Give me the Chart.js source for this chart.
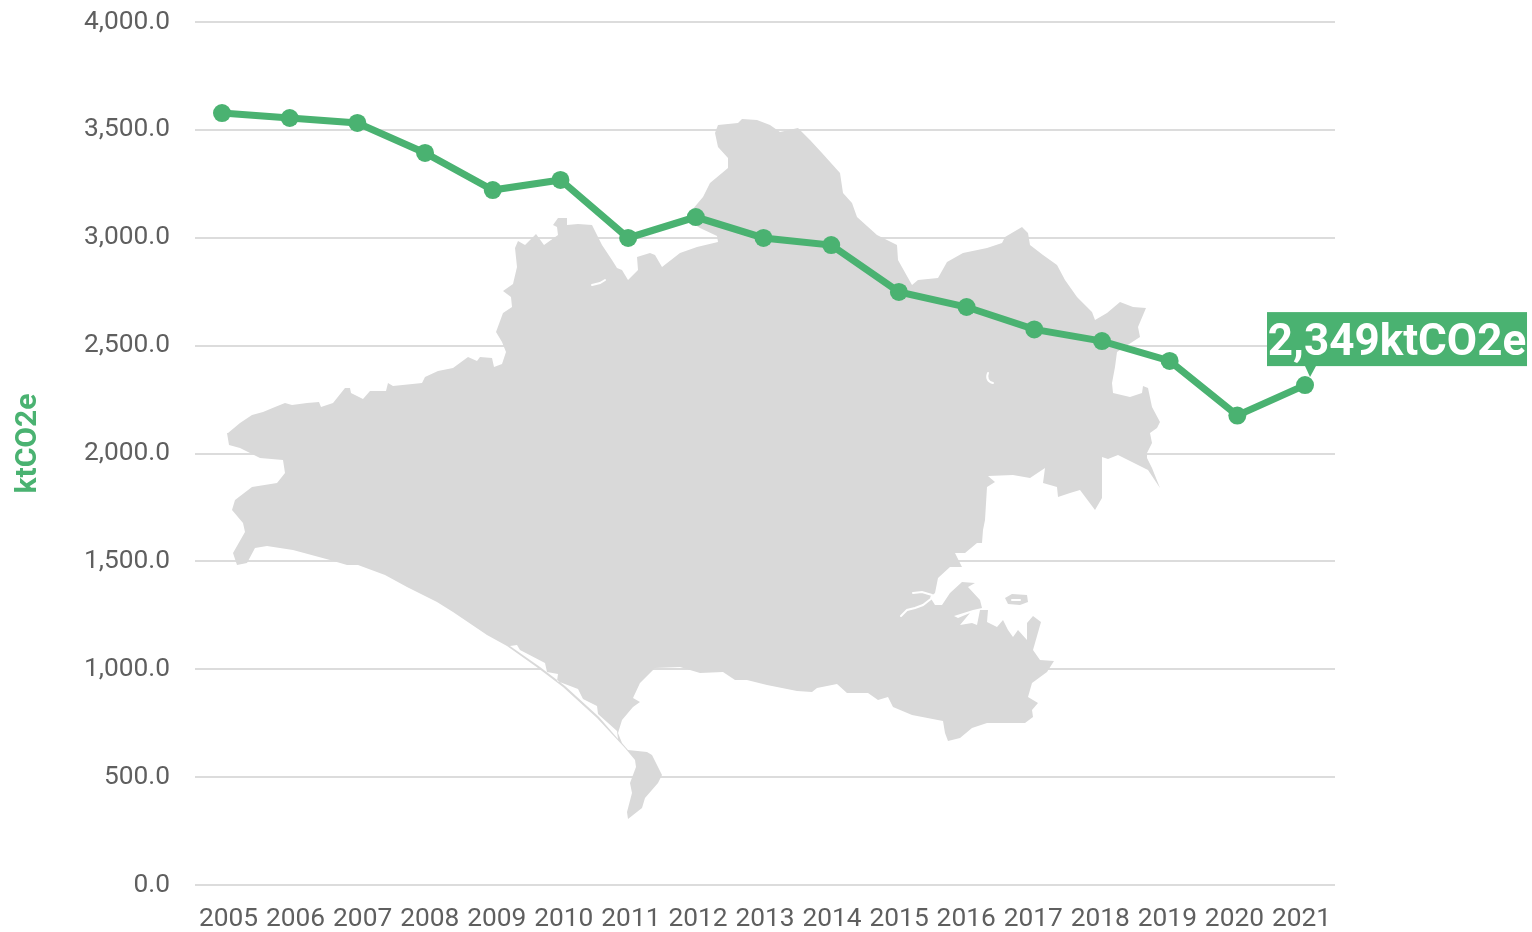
<!DOCTYPE html>
<html><head><meta charset="utf-8">
<style>html,body{margin:0;padding:0;background:#fff}canvas{display:block}</style>
<script src="https://cdn.jsdelivr.net/npm/chart.js@4"></script>
</head><body><canvas id="c" width="1532" height="932"></canvas>
<script>
const years = [2005,2006,2007,2008,2009,2010,2011,2012,2013,2014,2015,2016,2017,2018,2019,2020,2021];
const emissions = [3578,3555,3532,3393,3221,3268,2999,3096,2999,2966,2749,2679,2575,2521,2429,2176,2317];
const yTicks = [0,500,1000,1500,2000,2500,3000,3500,4000];
const yTitle = 'ktCO2e';
const calloutText = '2,349ktCO2e';
const GREEN = '#4ab271';

// Decorative county silhouette behind the line (a backdrop, not a data mark)
const landOutline = "M228 433 240 423 252 415 263 412 275 407 285 403 292 405 307 403 319 402 321 407 333 403 345 388 350 388 351 393 363 399 370 391 386 391 388 383 393 386 422 383 425 377 438 371 453 368 468 357 477 361 480 357 492 358 494 367 502 364 506 352 502 342 496 332 503 313 512 307 511 297 503 291 513 284 517 267 515 248 518 241 525 245 536 234 544 245 558 235 557 227 553 225 558 218 567 218 567 225 578 224 592 225 602 245 612 260 617 268 622 270 628 280 638 270 637 257 650 253 655 255 662 267 680 253 697 247 718 242 717 236 700 228 692 223 692 210 703 197 710 183 728 168 728 158 718 147 715 133 718 125 738 123 742 119 757 120 770 125 780 132 798 128 810 140 822 153 840 173 843 193 852 203 857 217 877 235 897 245 898 260 912 285 918 280 938 278 947 262 963 253 987 248 1002 243 1005 237 1022 227 1028 233 1030 245 1043 255 1057 265 1065 280 1077 297 1092 312 1095 320 1107 313 1120 302 1133 307 1146 308 1138 327 1140 337 1117 352 1115 367 1112 383 1113 393 1130 397 1142 393 1143 386 1148 388 1152 407 1160 422 1157 428 1150 433 1152 443 1147 453 1147 458 1152 468 1160 488 1148 470 1118 455 1108 459 1102 457 1102 498 1095 510 1080 490 1070 493 1058 497 1057 487 1043 483 1045 468 1030 478 1013 475 988 476 995 482 987 487 985 520 983 530 982 543 977 543 965 553 955 553 962 567 950 567 938 578 935 593 930 597 935 605 942 605 950 593 962 582 975 583 968 587 980 600 982 608 973 610 954 616 958 618 970 613 960 625 972 623 977 625 980 610 988 610 987 622 997 627 1003 620 1008 630 1013 637 1018 630 1027 640 1027 623 1033 616 1041 622 1033 650 1040 660 1054 661 1047 672 1032 683 1028 697 1038 703 1032 710 1033 717 1025 723 987 723 972 728 960 738 948 741 945 733 943 721 912 715 893 707 888 697 878 700 868 693 847 693 837 684 817 688 812 692 797 691 767 685 747 680 735 680 723 672 700 673 680 667 655 668 640 683 633 698 640 702 633 707 622 720 618 733 622 743 628 750 647 752 652 755 662 775 658 783 645 798 642 808 628 819 627 812 632 793 630 783 636 767 635 760 625 748 597 718 563 687 538 668 507 646 487 635 453 612 437 602 407 587 385 575 358 565 347 565 330 560 293 550 267 546 255 548 247 563 237 565 233 553 245 532 243 523 232 510 235 500 252 487 277 483 285 473 283 460 260 458 240 448 229 445 227 433Z";
const brownsea = "M1005 598 1012 594 1027 595 1028 602 1020 605 1008 604Z";
const lagoon = "M510 646 517 645 520 650 545 663 547 672 558 674 557 681 578 689 583 699 597 706 598 714 617 731 618 739 599 717 565 686 540 667Z";
const whiteLines = ["M932 598 923 605 915 608 907 610 901 616","M932 595 922 592 913 593","M592 285 600 283 605 280","M988 373C986 378 988 382 993 383","M1012 600 1020 600"];

const backdrop = {
  id:'backdrop',
  beforeDatasetsDraw(chart){
    const g = chart.ctx; g.save();
    g.fillStyle = '#d9d9d9';
    g.fill(new Path2D(landOutline));
    g.fill(new Path2D(brownsea));
    g.fillStyle = '#fff';
    g.fill(new Path2D(lagoon));
    g.strokeStyle = '#fff'; g.lineWidth = 2; g.lineCap = 'round';
    whiteLines.forEach(d => g.stroke(new Path2D(d)));
    g.restore();
  }
};

const callout = {
  id:'callout',
  afterDatasetsDraw(chart){
    const pt = chart.getDatasetMeta(0).data[emissions.length-1];
    const g = chart.ctx; g.save();
    const left = pt.x - 38, top = pt.y - 73, w = 260, h = 54;
    g.fillStyle = GREEN;
    g.fillRect(left, top, w, h);
    g.beginPath();
    g.moveTo(pt.x, top + h); g.lineTo(pt.x + 11, top + h); g.lineTo(pt.x + 5, top + h + 11); g.closePath(); g.fill();
    g.fillStyle = '#fff';
    g.font = 'bold 44px Roboto';
    g.textAlign = 'center'; g.textBaseline = 'middle';
    g.fillText(calloutText, left + w/2, top + h/2 + 5);
    // y-axis title, sitting above the axis midpoint as in the reference
    g.translate(28, 443.5);
    g.rotate(-Math.PI/2);
    g.fillStyle = GREEN;
    g.font = 'bold 30px Roboto';
    g.fillText(yTitle, 0, 0);
    g.restore();
  }
};

new Chart(document.getElementById('c'), {
  type:'line',
  data:{
    labels: years.map(String),
    datasets:[{
      data: years.map((y,i)=>({x:y,y:emissions[i]})),
      xAxisID:'xLine', yAxisID:'y',
      borderColor:GREEN, backgroundColor:GREEN,
      borderWidth:7, pointRadius:9, pointBorderWidth:0, tension:0, fill:false
    }]
  },
  options:{
    responsive:false, animation:false, devicePixelRatio:1,
    layout:{padding:{left:0,top:0,right:197,bottom:0}},
    plugins:{legend:{display:false},tooltip:{enabled:false},title:{display:false}},
    scales:{
      x:{
        type:'category', position:'bottom', offset:true,
        grid:{display:false}, border:{display:false},
        ticks:{color:'#5f5f5f',font:{family:'Roboto',size:26.3},padding:11,autoSkip:false,maxRotation:0,minRotation:0},
        afterFit(s){s.height=47;}
      },
      xLine:{
        type:'linear', axis:'x', position:'bottom', display:false,
        min:2004.601, max:2021.443
      },
      y:{
        min:0,max:4000,
        afterBuildTicks(s){s.ticks=yTicks.map(v=>({value:v}));},
        grid:{color:'#dcdcdc',lineWidth:2,drawTicks:false}, border:{display:false},
        ticks:{color:'#5f5f5f',font:{family:'Roboto',size:26.3},padding:25,
          callback:v=>v.toLocaleString('en-US',{minimumFractionDigits:1,maximumFractionDigits:1})},
        afterFit(s){s.width=195;s.paddingTop=22;s.paddingBottom=0;}
      }
    }
  },
  plugins:[backdrop,callout]
});
</script></body></html>
